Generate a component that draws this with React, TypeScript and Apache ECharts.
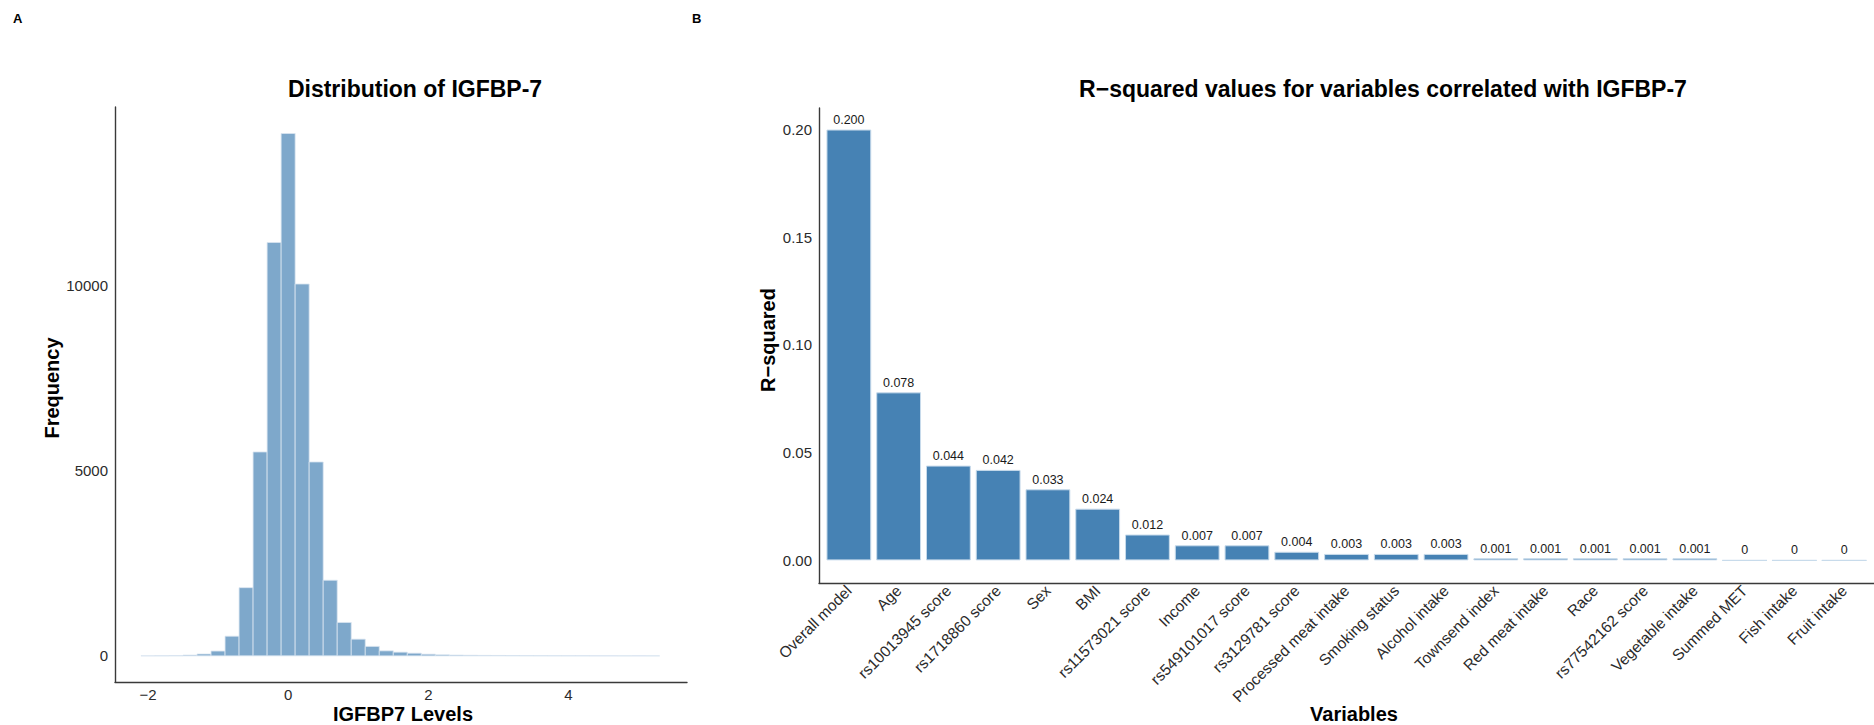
import React, { useEffect, useRef } from "react";
import * as echarts from "echarts";

// Panel A: IGFBP-7 histogram (bin centres and counts, bin width 0.2)
const histBinCenters = [
  -2.0, -1.8, -1.6, -1.4, -1.2, -1.0, -0.8, -0.6, -0.4, -0.2, 0.0, 0.2, 0.4,
  0.6, 0.8, 1.0, 1.2, 1.4, 1.6, 1.8, 2.0, 2.2, 2.4, 2.6, 2.8, 3.0, 3.2, 3.4,
  3.6, 3.8, 4.0, 4.2, 4.4, 4.6, 4.8, 5.0, 5.2,
];
const histCounts = [
  2, 3, 6, 20, 50, 130, 530, 1840, 5500, 11150, 14090, 10030, 5230, 2040, 900,
  450, 255, 135, 100, 72, 45, 28, 20, 15, 12, 10, 8, 6, 5, 4, 3, 3, 2, 2, 1, 2,
  1,
];
const histBinWidth = 0.2;
const histXTicks = [-2, 0, 2, 4];
const histYTicks = [0, 5000, 10000];

// Panel B: R-squared per variable
const variables = [
  "Overall model",
  "Age",
  "rs10013945 score",
  "rs1718860 score",
  "Sex",
  "BMI",
  "rs11573021 score",
  "Income",
  "rs549101017 score",
  "rs3129781 score",
  "Processed meat intake",
  "Smoking status",
  "Alcohol intake",
  "Townsend index",
  "Red meat intake",
  "Race",
  "rs77542162 score",
  "Vegetable intake",
  "Summed MET",
  "Fish intake",
  "Fruit intake",
];
const rSquared = [
  0.2, 0.078, 0.044, 0.042, 0.033, 0.024, 0.012, 0.007, 0.007, 0.004, 0.003,
  0.003, 0.003, 0.001, 0.001, 0.001, 0.001, 0.001, 0, 0, 0,
];
const rYTicks = [0, 0.05, 0.1, 0.15, 0.2];

const FONT = "'Liberation Sans', Arial, Helvetica, sans-serif";
const AXIS_COLOR = "#3a3a3a";
const TEXT_COLOR = "#2b2b2b";

const minusFmt = (v: number) => (v < 0 ? "\u2212" + Math.abs(v) : String(v));

function label(
  text: string,
  x: number,
  y: number,
  size: number,
  opts: { rotation?: number; align?: string; vAlign?: string } = {}
) {
  return {
    type: "text",
    x,
    y,
    rotation: opts.rotation || 0,
    silent: true,
    style: {
      text,
      fill: "#000",
      fontFamily: FONT,
      fontSize: size,
      fontWeight: "bold",
      textAlign: opts.align || "center",
      textVerticalAlign: opts.vAlign || "middle",
    },
  };
}

export default function App() {
  const ref = useRef<HTMLDivElement>(null);

  useEffect(() => {
    if (!ref.current) return;
    const chart = echarts.init(ref.current, undefined, { renderer: "svg" });

    const axisCommon = {
      axisLine: { show: true, onZero: false, lineStyle: { color: AXIS_COLOR, width: 1.4 } },
      axisTick: { show: false },
      splitLine: { show: false },
    };

    chart.setOption({
      animation: false,
      backgroundColor: "#ffffff",
      textStyle: { fontFamily: FONT },
      grid: [
        { left: 115, top: 107, width: 572, height: 575 },
        { left: 819, top: 108, width: 1055, height: 475 },
      ],
      xAxis: [
        {
          gridIndex: 0,
          type: "value",
          min: -2.47,
          max: 5.69,
          ...axisCommon,
          axisLabel: {
            customValues: histXTicks,
            formatter: minusFmt,
            color: TEXT_COLOR,
            fontSize: 15,
            margin: 5,
          },
        },
        {
          gridIndex: 1,
          type: "value",
          min: -0.6,
          max: variables.length - 0.4,
          ...axisCommon,
          axisLabel: {
            customValues: variables.map((_, i) => i),
            formatter: (v: number) => variables[Math.round(v)],
            rotate: 45,
            color: TEXT_COLOR,
            fontSize: 15.5,
            margin: 5,
            padding: [15, 0, 0, 0],
          },
        },
      ],
      yAxis: [
        {
          gridIndex: 0,
          type: "value",
          min: -705,
          max: 14805,
          ...axisCommon,
          axisLabel: {
            customValues: histYTicks,
            formatter: (v: number) => String(v),
            color: TEXT_COLOR,
            fontSize: 15,
            margin: 7,
          },
        },
        {
          gridIndex: 1,
          type: "value",
          min: -0.0105,
          max: 0.21,
          ...axisCommon,
          axisLabel: {
            customValues: rYTicks,
            formatter: (v: number) => v.toFixed(2),
            color: TEXT_COLOR,
            fontSize: 15,
            margin: 7,
          },
        },
      ],
      series: [
        {
          type: "custom",
          xAxisIndex: 0,
          yAxisIndex: 0,
          encode: { x: 0, y: 1 },
          data: histBinCenters.map((c, i) => [c, histCounts[i]]),
          renderItem: (params: any, api: any) => {
            const c = api.value(0);
            const n = api.value(1);
            const p0 = api.coord([c - histBinWidth / 2, n]);
            const p1 = api.coord([c + histBinWidth / 2, 0]);
            return {
              type: "rect",
              shape: { x: p0[0], y: p0[1], width: p1[0] - p0[0], height: p1[1] - p0[1] },
              style: { fill: "#7ea8cb", stroke: "#d9e5f0", lineWidth: 0.8 },
            };
          },
        },
        {
          type: "bar",
          xAxisIndex: 1,
          yAxisIndex: 1,
          data: rSquared.map((v, i) => [i, v]),
          barWidth: 44.8,
          itemStyle: { color: "#4682b4", borderColor: "#c8dbeb", borderWidth: 1 },
          label: {
            show: true,
            position: "top",
            distance: 3,
            fontSize: 12.5,
            color: "#1a1a1a",
            formatter: (p: any) => (p.value[1] === 0 ? "0" : p.value[1].toFixed(3)),
          },
        },
      ],
      graphic: [
        label("A", 13, 12, 13, { align: "left", vAlign: "top" }),
        label("B", 692, 12, 13, { align: "left", vAlign: "top" }),
        label("Distribution of IGFBP-7", 415, 89, 23),
        label("R\u2212squared values for variables correlated with IGFBP-7", 1383, 89, 23),
        label("IGFBP7 Levels", 403, 714, 20),
        label("Frequency", 52, 388, 20, { rotation: Math.PI / 2 }),
        label("R\u2212squared", 768, 340, 20, { rotation: Math.PI / 2 }),
        label("Variables", 1354, 714, 20),
      ],
    });

    return () => chart.dispose();
  }, []);

  return (
    <div
      ref={ref}
      style={{ position: "absolute", left: 0, top: 0, width: 1874, height: 725 }}
    />
  );
}
